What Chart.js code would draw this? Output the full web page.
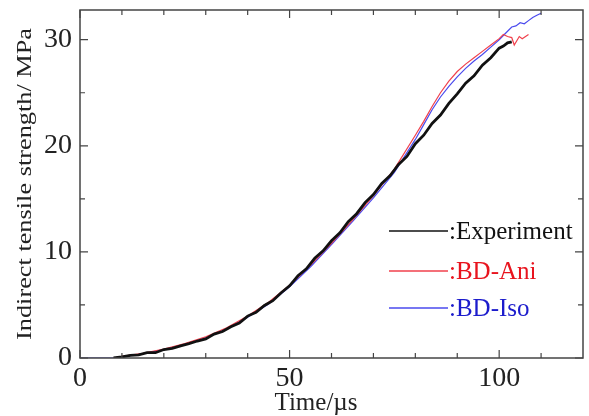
<!DOCTYPE html>
<html>
<head>
<meta charset="utf-8">
<script src="https://cdn.jsdelivr.net/npm/chart.js@4"></script>
<style>
  html, body { margin: 0; padding: 0; background: #fff; }
  #wrap { width: 589px; height: 416px; }
</style>
</head>
<body>
<div id="wrap"><canvas id="c" width="589" height="416"></canvas></div>
<script>
// values
const expTime = [8, 10, 12, 14, 16, 18, 20, 22, 24, 26, 28, 30, 32, 34, 36, 38, 40, 42, 44, 46, 48, 50, 52, 54, 56, 58, 60, 62, 64, 66, 68, 70, 72, 74, 76, 78, 80, 82, 84, 86, 88, 90, 92, 94, 96, 98, 100, 101, 102, 103];
const expStress = [0, 0.1, 0.25, 0.3, 0.5, 0.5, 0.8, 0.9, 1.15, 1.35, 1.6, 1.8, 2.25, 2.5, 2.95, 3.3, 3.95, 4.3, 4.95, 5.4, 6.15, 6.8, 7.75, 8.4, 9.4, 10.1, 11.05, 11.8, 12.85, 13.6, 14.65, 15.4, 16.45, 17.2, 18.25, 19.0, 20.2, 21.0, 22.1, 22.9, 24.0, 24.9, 25.9, 26.6, 27.6, 28.3, 29.2, 29.4, 29.7, 29.8];

const aniTime = [8, 10, 15, 20, 25, 30, 35, 40, 45, 50, 55, 60, 65, 70, 75, 80, 82, 84, 86, 88, 90, 92, 94, 96, 98, 100, 101, 102, 103, 103.6, 104.8, 105.5, 107];
const aniStress = [0, 0.15, 0.45, 0.85, 1.35, 2.0, 2.85, 3.95, 5.25, 6.85, 8.75, 10.8, 13.0, 15.3, 17.8, 21.0, 22.3, 23.7, 25.0, 26.1, 27.0, 27.7, 28.3, 28.9, 29.5, 30.1, 30.5, 30.3, 30.2, 29.5, 30.3, 30.1, 30.5];

const isoTime = [0, 5, 8, 10, 15, 20, 25, 30, 35, 40, 45, 50, 55, 60, 65, 70, 75, 80, 82, 84, 86, 88, 90, 92, 94, 96, 98, 100, 102, 103, 104, 105, 106, 107, 108, 109, 110];
const isoStress = [0, 0, 0.02, 0.1, 0.4, 0.8, 1.3, 1.9, 2.75, 3.85, 5.1, 6.7, 8.6, 10.7, 12.85, 15.1, 17.5, 20.6, 22.0, 23.4, 24.6, 25.6, 26.5, 27.3, 28.0, 28.6, 29.3, 30.0, 30.8, 31.2, 31.3, 31.6, 31.5, 31.8, 32.1, 32.3, 32.5];

const xTicks = [0, 50, 100];
const xMinor = [10, 20, 30, 40, 60, 70, 80, 90, 110];
const yTicks = [0, 10, 20, 30];
const yMinor = [5, 15, 25];

const xTitle = 'Time/\u00b5s';
const yTitle = 'Indirect tensile strength/ MPa';

const legendItems = [
  { label: ':Experiment', line: '#111111', text: '#111111' },
  { label: ':BD-Ani', line: '#f0404c', text: '#e8141e' },
  { label: ':BD-Iso', line: '#4a4aee', text: '#1c1ccc' }
];

const serif = '"Liberation Serif", "DejaVu Serif", serif';

function pts(xs, ys) {
  return xs.map((x, i) => ({ x: x, y: ys[i] }));
}

// frame with inward ticks on all four sides, axis titles and the legend
const framePlugin = {
  id: 'frame',
  afterDraw(chart) {
    const { ctx, chartArea: a, scales } = chart;
    const xs = scales.x, ys = scales.y;
    ctx.save();
    ctx.strokeStyle = '#444';
    ctx.lineWidth = 1.5;
    ctx.strokeRect(a.left, a.top, a.right - a.left, a.bottom - a.top);
    ctx.lineWidth = 1.2;
    ctx.beginPath();
    const tickX = (v, len) => {
      const p = xs.getPixelForValue(v);
      ctx.moveTo(p, a.bottom); ctx.lineTo(p, a.bottom - len);
      ctx.moveTo(p, a.top); ctx.lineTo(p, a.top + len);
    };
    const tickY = (v, len) => {
      const p = ys.getPixelForValue(v);
      ctx.moveTo(a.left, p); ctx.lineTo(a.left + len, p);
      ctx.moveTo(a.right, p); ctx.lineTo(a.right - len, p);
    };
    xTicks.forEach(v => tickX(v, 8));
    xMinor.forEach(v => tickX(v, 5));
    yTicks.forEach(v => tickY(v, 8));
    yMinor.forEach(v => tickY(v, 5));
    ctx.stroke();

    // x title
    ctx.fillStyle = '#222';
    ctx.font = '25px ' + serif;
    ctx.textAlign = 'center';
    ctx.textBaseline = 'alphabetic';
    ctx.fillText(xTitle, 316, 410);

    // y title, drawn stretched along its length like the reference
    ctx.save();
    ctx.font = '20px ' + serif;
    ctx.translate(26, (a.top + a.bottom) / 2);
    ctx.rotate(-Math.PI / 2);
    const w = ctx.measureText(yTitle).width;
    ctx.scale(312 / w, 1);
    ctx.textBaseline = 'middle';
    ctx.fillText(yTitle, 0, 0);
    ctx.restore();

    // legend
    ctx.font = '25px ' + serif;
    ctx.textAlign = 'left';
    ctx.textBaseline = 'middle';
    const rows = [231, 271, 308];
    legendItems.forEach((it, i) => {
      ctx.strokeStyle = it.line;
      ctx.lineWidth = 1.5;
      ctx.beginPath();
      ctx.moveTo(389, rows[i]);
      ctx.lineTo(448, rows[i]);
      ctx.stroke();
      ctx.fillStyle = it.text;
      ctx.fillText(it.label, 449, rows[i] + 1);
    });
    ctx.restore();
  }
};

new Chart(document.getElementById('c'), {
  type: 'scatter',
  data: {
    datasets: [
      {
        label: 'Experiment',
        data: pts(expTime, expStress),
        showLine: true,
        borderColor: '#111111',
        borderWidth: 2.8,
        pointRadius: 0,
        order: 0
      },
      {
        label: 'BD-Ani',
        data: pts(aniTime, aniStress),
        showLine: true,
        borderColor: '#f0404c',
        borderWidth: 1.2,
        pointRadius: 0,
        order: 1
      },
      {
        label: 'BD-Iso',
        data: pts(isoTime, isoStress),
        showLine: true,
        borderColor: '#4a4aee',
        borderWidth: 1.2,
        pointRadius: 0,
        order: 2
      }
    ]
  },
  options: {
    responsive: false,
    animation: false,
    devicePixelRatio: 1,
    layout: { padding: { top: 0, right: 6, left: 0, bottom: 0 } },
    plugins: { legend: { display: false }, tooltip: { enabled: false } },
    scales: {
      x: {
        type: 'linear',
        min: 0,
        max: 120,
        grid: { display: false, drawTicks: false },
        border: { display: false },
        afterBuildTicks: s => { s.ticks = xTicks.map(v => ({ value: v })); },
        afterFit: s => { s.height = 58; s.paddingLeft = 0; s.paddingRight = 0; },
        ticks: {
          padding: 4,
          color: '#222',
          font: { family: serif, size: 28 },
          maxRotation: 0
        }
      },
      y: {
        type: 'linear',
        min: 0,
        max: 32.8,
        grid: { display: false, drawTicks: false },
        border: { display: false },
        afterBuildTicks: s => { s.ticks = yTicks.map(v => ({ value: v })); },
        afterFit: s => { s.width = 80; s.paddingTop = 10; s.paddingBottom = 0; },
        ticks: {
          padding: 8,
          color: '#222',
          font: { family: serif, size: 28 }
        }
      }
    }
  },
  plugins: [framePlugin]
});
</script>
</body>
</html>
